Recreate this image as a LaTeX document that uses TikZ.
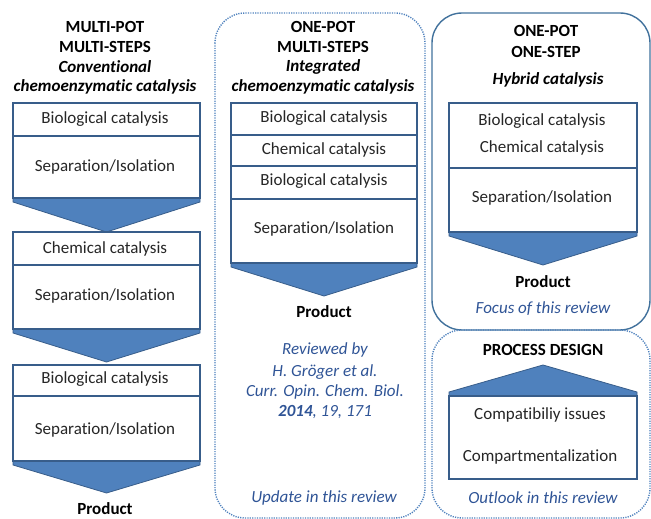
\documentclass[tikz,border=0pt]{standalone}
\usepackage{fontspec}
\setmainfont{Carlito}[Ligatures=NoCommon]
\definecolor{boxline}{RGB}{56,93,138}
\definecolor{arrowfill}{RGB}{79,129,189}
\definecolor{notecol}{RGB}{47,84,150}
\definecolor{framecol}{RGB}{65,113,156}
\definecolor{dotcol}{RGB}{79,129,189}
\newcommand\dnchev[4]{\fill[arrowfill,draw=boxline,line width=0.8pt] (#1,#3) -- (#2,#3) -- (#2,#3+4) -- ({(#1+#2)/2},#4) -- (#1,#3+4) -- cycle;}
\newcommand\upchev[4]{\fill[arrowfill,draw=boxline,line width=0.8pt] (#1,#3) -- (#2,#3) -- (#2,#3-4) -- ({(#1+#2)/2},#4) -- (#1,#3-4) -- cycle;}
\begin{document}
\begin{tikzpicture}[x=1pt,y=-1pt,
  every node/.style={font=\fontsize{17}{20}\selectfont, inner sep=0pt},
  boxst/.style={draw=boxline, line width=1.5pt, fill=white},
  divl/.style={boxline, line width=1.5pt},
  dotfr/.style={dotcol, line width=1.4pt, dash pattern=on 1.2pt off 1.2pt, rounded corners=30pt},
  ttl/.style={font=\fontsize{17}{20}\selectfont\bfseries},
  ttli/.style={font=\fontsize{17}{20}\selectfont\bfseries\itshape},
  lbl/.style={text=black!85},
  note/.style={font=\fontsize{17}{20}\selectfont\itshape, text=notecol},
  prod/.style={font=\fontsize{17}{20}\selectfont\bfseries}]
\useasboundingbox (0,0) rectangle (651,519);
% frames
\draw[dotfr] (215,13) rectangle (425,518);
\draw[framecol, line width=1.4pt, rounded corners=30pt] (432,13) rectangle (650,330);
\draw[dotfr] (432,330) rectangle (650,518);

% ---------- column 1
\node[ttl] (t1a) at (105,27) {MULTI-POT};
\node[ttl] (t1b) at (105,47) {MULTI-STEPS};
\node[ttli] (t1c) at (105,67) {Conventional};
\node[ttli] (t1d) at (105,87) {chemoenzymatic catalysis};
\dnchev{13}{200}{198}{232}
\draw[boxst] (13,103) rectangle (200,198);
\draw[divl] (13,136) -- (200,136);
\node[lbl] (c1b1) at (105,119) {Biological catalysis};
\node[lbl] (c1s1) at (105,167) {Separation/Isolation};
\dnchev{13}{200}{329}{362}
\draw[boxst] (13,232) rectangle (200,329);
\draw[divl] (13,265) -- (200,265);
\node[lbl] (c1c2) at (105,249) {Chemical catalysis};
\node[lbl] (c1s2) at (105,296) {Separation/Isolation};
\dnchev{13}{200}{461}{493}
\draw[boxst] (13,365) rectangle (200,461);
\draw[divl] (13,396) -- (200,396);
\node[lbl] (c1b3) at (105,379) {Biological catalysis};
\node[lbl] (c1s3) at (105,430) {Separation/Isolation};
\node[prod] (p1) at (105,509) {Product};

% ---------- column 2
\node[ttl] (t2a) at (323,27) {ONE-POT};
\node[ttl] (t2b) at (323,47) {MULTI-STEPS};
\node[ttli] (t2c) at (323,67) {Integrated};
\node[ttli] (t2d) at (323,87) {chemoenzymatic catalysis};
\dnchev{231}{417}{263}{296}
\draw[boxst] (231,103) rectangle (417,263);
\draw[divl] (231,135) -- (417,135);
\draw[divl] (231,166) -- (417,166);
\draw[divl] (231,199) -- (417,199);
\node[lbl] (c2b1) at (324,118) {Biological catalysis};
\node[lbl] (c2c1) at (324,150) {Chemical catalysis};
\node[lbl] (c2b2) at (324,181) {Biological catalysis};
\node[lbl] (c2s1) at (324,229) {Separation/Isolation};
\node[prod] (p2) at (324,312) {Product};
\node[note] (r1) at (325,350) {Reviewed by};
\node[note] (r2) at (325,372) {H. Gröger et al.};
\node[note] (r3) at (325,392) {Curr. Opin. Chem. Biol.};
\node[note] (r4) at (325,412) {\textbf{2014}, 19, 171};
\node[note] (u2) at (324,498) {Update in this review};

% ---------- column 3
\node[ttl] (t3a) at (546,31) {ONE-POT};
\node[ttl] (t3b) at (546,52) {ONE-STEP};
\node[ttli] (t3c) at (548,80) {Hybrid catalysis};
\dnchev{449}{637}{232}{265}
\draw[boxst] (449,103) rectangle (637,232);
\draw[divl] (449,168) -- (637,168);
\node[lbl] (c3b1) at (542,121) {Biological catalysis};
\node[lbl] (c3c1) at (542,148) {Chemical catalysis};
\node[lbl] (c3s1) at (542,198) {Separation/Isolation};
\node[prod] (p3) at (543,282) {Product};
\node[note] (f3) at (543,309) {Focus of this review};

\node[ttl] (t4) at (543,350) {PROCESS DESIGN};
\upchev{449}{637}{396}{365}
\draw[boxst] (449,396) rectangle (637,479);
\node[lbl] (c4a) at (540,415) {Compatibiliy issues};
\node[lbl] (c4b) at (540,457) {Compartmentalization};
\node[note] (o4) at (543,498) {Outlook in this review};
\end{tikzpicture}
\end{document}
